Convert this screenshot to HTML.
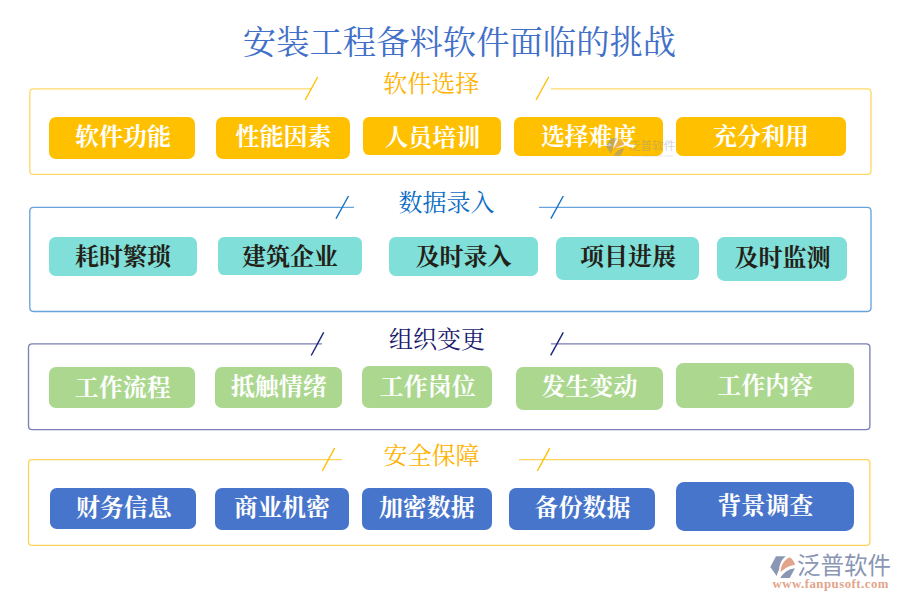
<!DOCTYPE html>
<html lang="zh-CN">
<head>
<meta charset="utf-8">
<title>安装工程备料软件面临的挑战</title>
<style>
html,body{margin:0;padding:0;background:#fff;}
body{width:900px;height:600px;position:relative;overflow:hidden;font-family:"Liberation Serif","Noto Serif CJK SC",serif;}
.g{display:block;overflow:visible;}
.abs{position:absolute;}
.tx{position:absolute;left:0;top:0;width:100%;height:100%;white-space:nowrap;overflow:visible;
    display:flex;align-items:center;justify-content:center;font-family:"Liberation Serif","Noto Serif CJK SC",serif;}
h1{position:absolute;margin:0;font-weight:normal;font-size:33.33px;line-height:1;}
h2{position:absolute;margin:0;font-weight:normal;font-size:24px;line-height:1;}
.btn{position:absolute;border-radius:7px;font-size:24px;font-weight:bold;line-height:1;}
.btn.y{background:#FFC000;color:#fff;} .btn.t{background:#80DFD8;color:#241f18;} .btn.gr{background:#ABD78F;color:#fff;} .btn.b{background:#4775CB;color:#fff;}
.btn .tx{width:96px;height:24px;line-height:24px;}
.frame{position:absolute;left:0;top:0;width:900px;height:600px;}
</style>
</head>
<body>
<svg class="frame" width="900" height="600" viewBox="0 0 900 600" fill="none" stroke-width="1.33"><path d="M311.3 88.8H33.5Q29.8 88.8 29.8 92.5V170.7Q29.8 174.4 33.5 174.4H867.3Q871 174.4 871 170.7V92.5Q871 88.8 867.3 88.8H551" stroke="#FFD968"/><path d="M317.67 77L305.2 100" stroke="#FFC000" stroke-width="1.4"/><path d="M548.67 77L536 100" stroke="#FFC000" stroke-width="1.4"/><path d="M354 207.3H33.5Q29.8 207.3 29.8 211V307.8Q29.8 311.5 33.5 311.5H867.3Q871 311.5 871 307.8V211Q871 207.3 867.3 207.3H539" stroke="#68A3DA"/><path d="M348.5 196L336 218.67" stroke="#1672C4" stroke-width="1.4"/><path d="M563.3 196L550.87 218.67" stroke="#1672C4" stroke-width="1.4"/><path d="M322 343.9H32.2Q28.5 343.9 28.5 347.6V425.9Q28.5 429.6 32.2 429.6H866.2Q869.9 429.6 869.9 425.9V347.6Q869.9 343.9 866.2 343.9H551" stroke="#7A7FB4"/><path d="M323.67 332.3L311.2 355.5" stroke="#1A237A" stroke-width="1.4"/><path d="M563.3 332.3L550.67 355.3" stroke="#1A237A" stroke-width="1.4"/><path d="M341.9 459.6H32.2Q28.5 459.6 28.5 463.3V541.7Q28.5 545.4 32.2 545.4H866.2Q869.9 545.4 869.9 541.7V463.3Q869.9 459.6 866.2 459.6H519" stroke="#FFD35A"/><path d="M334.67 448.1L322.2 471" stroke="#FFC000" stroke-width="1.4"/><path d="M549.8 448.1L537.3 471" stroke="#FFC000" stroke-width="1.4"/></svg>
<h1 style="left:240.99px;top:25.73px;width:437.02px;height:33.33px;color:#4270C8"><span class="tx">安装工程备料软件面临的挑战</span></h1>
<h2 style="left:383.25px;top:72.40px;width:96px;height:24px;color:#FFB300"><span class="tx">软件选择</span></h2>
<h2 style="left:398.60px;top:190.90px;width:96px;height:24px;color:#0A6CC4"><span class="tx">数据录入</span></h2>
<h2 style="left:389.00px;top:328.40px;width:96px;height:24px;color:#1A1C6E"><span class="tx">组织变更</span></h2>
<h2 style="left:383.60px;top:443.80px;width:96px;height:24px;color:#FFB300"><span class="tx">安全保障</span></h2>
<div class="btn y" style="left:49px;top:117px;width:146px;height:42px;border-radius:7.0px"><span class="tx" style="left:25.91px;top:8.18px">软件功能</span></div>
<div class="btn y" style="left:216px;top:117px;width:134px;height:42px;border-radius:7.0px"><span class="tx" style="left:19.56px;top:8.14px">性能因素</span></div>
<div class="btn y" style="left:363px;top:117px;width:138px;height:38px;border-radius:6.3px"><span class="tx" style="left:21.38px;top:8.57px">人员培训</span></div>
<div class="btn y" style="left:514px;top:117px;width:149px;height:39px;border-radius:6.5px"><span class="tx" style="left:26.63px;top:8.17px">选择难度</span></div>
<div class="btn y" style="left:676px;top:117px;width:170px;height:39px;border-radius:6.5px"><span class="tx" style="left:37.04px;top:8.14px">充分利用</span></div>
<div class="btn t" style="left:49px;top:237px;width:148px;height:39px;border-radius:6.5px"><span class="tx" style="left:25.93px;top:7.81px">耗时繁琐</span></div>
<div class="btn t" style="left:218px;top:237px;width:144px;height:38px;border-radius:6.3px"><span class="tx" style="left:24.01px;top:7.83px">建筑企业</span></div>
<div class="btn t" style="left:389px;top:237px;width:149px;height:39px;border-radius:6.5px"><span class="tx" style="left:26.63px;top:8.10px">及时录入</span></div>
<div class="btn t" style="left:556px;top:237px;width:143px;height:43px;border-radius:7.2px"><span class="tx" style="left:23.97px;top:8.00px">项目进展</span></div>
<div class="btn t" style="left:717px;top:237px;width:130px;height:44px;border-radius:7.3px"><span class="tx" style="left:17.43px;top:9.48px">及时监测</span></div>
<div class="btn gr" style="left:49px;top:367px;width:146px;height:41px;border-radius:6.8px"><span class="tx" style="left:25.77px;top:8.81px">工作流程</span></div>
<div class="btn gr" style="left:215px;top:367px;width:127px;height:41px;border-radius:6.8px"><span class="tx" style="left:15.76px;top:8.02px">抵触情绪</span></div>
<div class="btn gr" style="left:362px;top:366px;width:130px;height:42px;border-radius:7.0px"><span class="tx" style="left:17.65px;top:8.74px">工作岗位</span></div>
<div class="btn gr" style="left:516px;top:367px;width:147px;height:43px;border-radius:7.2px"><span class="tx" style="left:25.41px;top:8.14px">发生变动</span></div>
<div class="btn gr" style="left:676px;top:363px;width:178px;height:45px;border-radius:7.5px"><span class="tx" style="left:41.15px;top:10.90px">工作内容</span></div>
<div class="btn b" style="left:50px;top:488px;width:146px;height:41px;border-radius:6.8px"><span class="tx" style="left:25.89px;top:8.06px">财务信息</span></div>
<div class="btn b" style="left:215px;top:488px;width:134px;height:42px;border-radius:7.0px"><span class="tx" style="left:19.12px;top:8.42px">商业机密</span></div>
<div class="btn b" style="left:362px;top:488px;width:130px;height:42px;border-radius:7.0px"><span class="tx" style="left:16.89px;top:7.99px">加密数据</span></div>
<div class="btn b" style="left:509px;top:488px;width:146px;height:42px;border-radius:7.0px"><span class="tx" style="left:25.50px;top:8.25px">备份数据</span></div>
<div class="btn b" style="left:676px;top:482px;width:178px;height:49px;border-radius:8.2px"><span class="tx" style="left:41.27px;top:11.76px">背景调查</span></div>
<div class="abs" style="left:770px;top:556px;width:122px;height:34px;opacity:1"><svg class="g abs" style="left:0;top:0" width="27" height="23" viewBox="0 0 27 23"><path fill="#8996B4" d="M0.3 11 L6 0.3 H15.8 C11 4 9.5 9 9.2 13.3 C8 16 7.2 18 6.7 20 Z"/><path fill="#E2A48A" d="M19.6 1.3 C22.5 3 24.5 6 25 9 C19 9.5 14 12.5 10.7 16.3 C10.5 11 13 4.5 19.6 1.3 Z"/><path fill="#8996B4" d="M25 12.3 L19.7 22 H10.3 C13.5 16.5 18.5 13 25 12.3 Z"/></svg><div class="abs" style="left:27px;top:-0.9px;width:94px;height:23.5px"><span class="tx" style="color:#8996B4;font:normal 23.5px/1 'Liberation Sans','Noto Sans CJK SC',sans-serif">泛普软件</span></div><div class="abs" style="left:1.9px;top:23.5px;width:117.7px;height:10.7px;"><span class="tx" style="color:#E2A48A;font:bold 12.8px/1 'Liberation Serif',serif;letter-spacing:0.5px">www.fanpusoft.com</span></div></div>
<div class="abs" style="left:605.5px;top:137.5px;width:72px;height:22px;opacity:0.46"><svg class="g abs" style="left:0;top:0" width="20" height="18.5" viewBox="0 0 27 23" preserveAspectRatio="none"><path fill="#7F8BA8" d="M0.3 11 L6 0.3 H15.8 C11 4 9.5 9 9.2 13.3 C8 16 7.2 18 6.7 20 Z"/><path fill="#D9A088" d="M19.6 1.3 C22.5 3 24.5 6 25 9 C19 9.5 14 12.5 10.7 16.3 C10.5 11 13 4.5 19.6 1.3 Z"/><path fill="#7F8BA8" d="M25 12.3 L19.7 22 H10.3 C13.5 16.5 18.5 13 25 12.3 Z"/></svg><div class="abs" style="left:23px;top:0.8px;width:47px;height:14.5px;opacity:.78"><span class="tx" style="color:#7F8BA8;font:normal 11.75px/1 'Liberation Sans','Noto Sans CJK SC',sans-serif">泛普软件</span></div><div class="abs" style="left:23px;top:16.3px;width:47px;height:4.2px;opacity:.35;"><span class="tx" style="color:#7F8BA8;font:bold 5.0px/1 'Liberation Serif',serif">www.fanpusoft.com</span></div></div>
</body>
</html>
